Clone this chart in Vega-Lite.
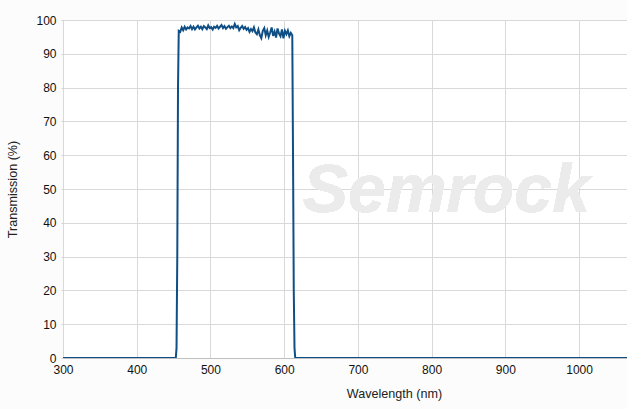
{
  "$schema": "https://vega.github.io/schema/vega-lite/v6.json",
  "width": 564,
  "height": 338,
  "autosize": "none",
  "padding": {"left": 63, "top": 20, "right": 0, "bottom": 51},
  "background": "#fcfcfc",
  "config": {
    "view": {"fill": "white", "stroke": null},
    "font": "Liberation Sans",
    "axis": {
      "labelFont": "Liberation Sans",
      "titleFont": "Liberation Sans",
      "labelFontSize": 12,
      "titleFontSize": 12.6,
      "titleFontWeight": "normal",
      "labelColor": "#111",
      "titleColor": "#222",
      "grid": true,
      "gridColor": "#d9d9d9",
      "gridOpacity": 1,
      "gridWidth": 1
    }
  },
  "data": {
    "values": [
      {"wl": 300, "t": 0}, {"wl": 453, "t": 0}, {"wl": 454, "t": 3}, {"wl": 455, "t": 30}, {"wl": 456, "t": 80},
      {"wl": 457, "t": 96.8}, {"wl": 459, "t": 96.5}, {"wl": 461, "t": 97.8}, {"wl": 463, "t": 97}, {"wl": 465, "t": 98},
      {"wl": 467, "t": 97.2}, {"wl": 469, "t": 97.8}, {"wl": 471, "t": 97.5}, {"wl": 473, "t": 98.2}, {"wl": 475, "t": 97.3},
      {"wl": 477, "t": 98}, {"wl": 479, "t": 97.2}, {"wl": 481, "t": 97.8}, {"wl": 483, "t": 98.3}, {"wl": 485, "t": 97.5},
      {"wl": 487, "t": 98}, {"wl": 489, "t": 97.3}, {"wl": 491, "t": 98.2}, {"wl": 493, "t": 97.8}, {"wl": 495, "t": 97.3},
      {"wl": 497, "t": 98.4}, {"wl": 499, "t": 97.6}, {"wl": 501, "t": 97.9}, {"wl": 503, "t": 97.2}, {"wl": 505, "t": 98},
      {"wl": 507, "t": 97.7}, {"wl": 509, "t": 98.3}, {"wl": 511, "t": 97.5}, {"wl": 513, "t": 98}, {"wl": 515, "t": 98.5},
      {"wl": 517, "t": 97.6}, {"wl": 519, "t": 98.2}, {"wl": 521, "t": 97.4}, {"wl": 523, "t": 97.9}, {"wl": 525, "t": 98.3},
      {"wl": 527, "t": 97.6}, {"wl": 529, "t": 98.1}, {"wl": 531, "t": 97.6}, {"wl": 533, "t": 98.8}, {"wl": 535, "t": 97.8},
      {"wl": 537, "t": 98.2}, {"wl": 539, "t": 97}, {"wl": 541, "t": 97.7}, {"wl": 543, "t": 98.2}, {"wl": 545, "t": 97.4},
      {"wl": 547, "t": 97.9}, {"wl": 549, "t": 97.1}, {"wl": 551, "t": 97.6}, {"wl": 553, "t": 96.5}, {"wl": 555, "t": 97.3},
      {"wl": 557, "t": 96.7}, {"wl": 559, "t": 97.8}, {"wl": 561, "t": 96.3}, {"wl": 563, "t": 95.8}, {"wl": 565, "t": 97.2},
      {"wl": 567, "t": 95.5}, {"wl": 569, "t": 94.6}, {"wl": 571, "t": 96.8}, {"wl": 573, "t": 97.6}, {"wl": 575, "t": 95.5},
      {"wl": 577, "t": 96.9}, {"wl": 579, "t": 95}, {"wl": 581, "t": 96.3}, {"wl": 583, "t": 97.8}, {"wl": 585, "t": 95.3},
      {"wl": 587, "t": 96.6}, {"wl": 589, "t": 94.8}, {"wl": 591, "t": 97.5}, {"wl": 593, "t": 96}, {"wl": 595, "t": 95.2},
      {"wl": 597, "t": 97.2}, {"wl": 599, "t": 94.6}, {"wl": 601, "t": 96.8}, {"wl": 603, "t": 95.8}, {"wl": 605, "t": 96.9},
      {"wl": 607, "t": 95.2}, {"wl": 609, "t": 96.2}, {"wl": 611, "t": 95.5}, {"wl": 612, "t": 60}, {"wl": 613, "t": 20},
      {"wl": 614, "t": 3}, {"wl": 615, "t": 0}, {"wl": 1065, "t": 0}
    ]
  },
  "encoding": {
    "x": {
      "field": "wl", "type": "quantitative",
      "scale": {"domain": [300, 1065], "nice": false, "zero": false},
      "axis": {"values": [300, 400, 500, 600, 700, 800, 900, 1000], "format": "d", "grid": true, "title": "Wavelength (nm)", "titleX": 331, "titleAlign": "center", "titlePadding": 12, "labelPadding": 6, "tickSize": 0, "domainColor": "#c0c0c0", "labelFlush": false}
    },
    "y": {
      "field": "t", "type": "quantitative",
      "scale": {"domain": [0, 100], "nice": false},
      "axis": {"values": [0, 10, 20, 30, 40, 50, 60, 70, 80, 90, 100], "grid": true, "labelOverlap": false, "title": "Transmission (%)", "titlePadding": 16, "labelPadding": 5, "tickSize": 2, "tickColor": "#d0d0d0", "domain": false}
    }
  },
  "layer": [
    {
      "mark": {"type": "text", "font": "Liberation Sans", "fontWeight": "bold", "fontStyle": "italic", "fontSize": 68, "color": "#ebebeb", "align": "center", "baseline": "middle"},
      "encoding": {
        "x": {"datum": 820, "type": "quantitative"},
        "y": {"datum": 49, "type": "quantitative"},
        "text": {"value": "Semrock"}
      }
    },
    {
      "mark": {"type": "line", "color": "#0f4f85", "strokeWidth": 2, "clip": true}
    }
  ]
}
